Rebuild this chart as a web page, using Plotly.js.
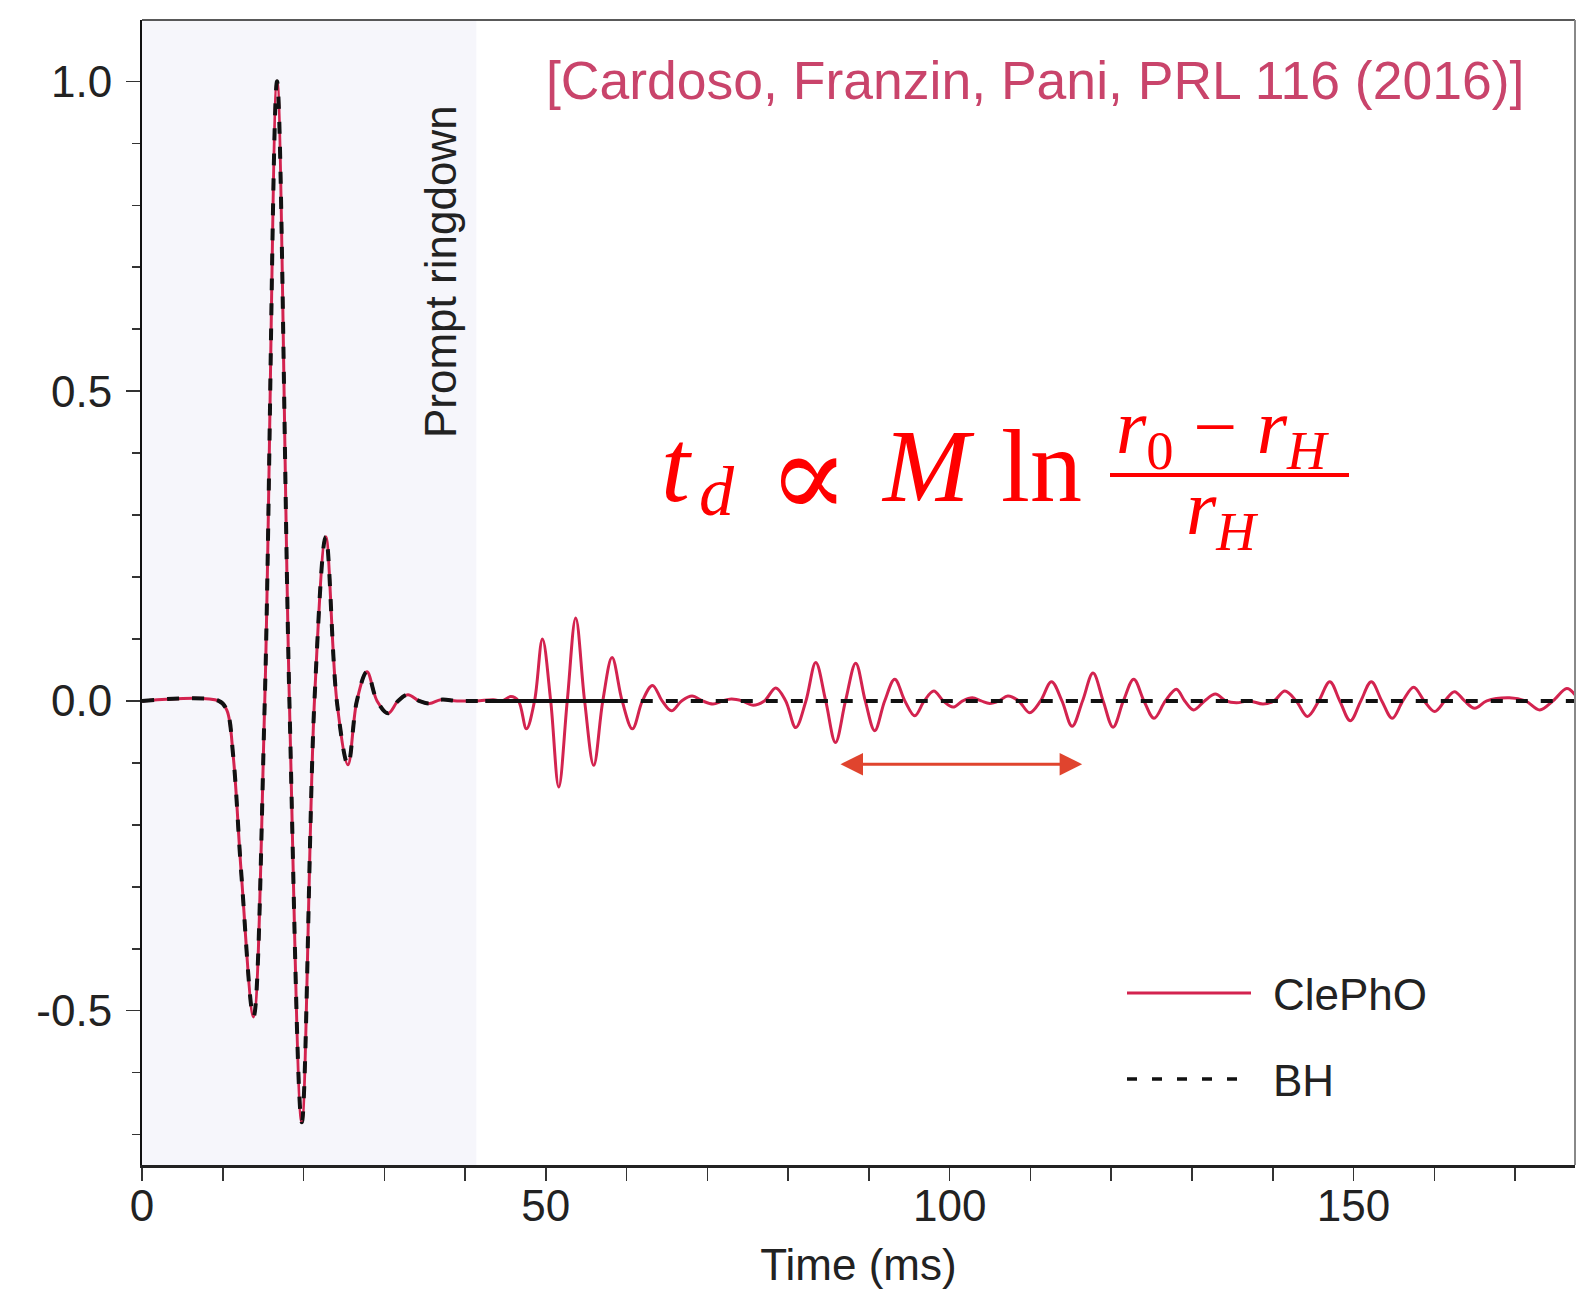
<!DOCTYPE html>
<html>
<head>
<meta charset="utf-8">
<script src="https://cdn.plot.ly/plotly-3.0.1.min.js"></script>
<style>
  html, body { margin: 0; padding: 0; background: #ffffff; }
  #chart { width: 1593px; height: 1289px; }
</style>
</head>
<body>
<div id="chart"></div>
<script>
// ---------- DATA ----------
// Prompt ringdown: shared by the ClePhO and BH signals (time in ms, normalised strain)
const promptTime = [0, 9.5, 10.5, 11.3, 12.3, 13.8, 15.2, 16.72, 18.25, 19.78, 21.35, 22.75, 24.12, 25.5, 26.6, 27.85, 29.1, 30.47, 31.7, 32.93, 34.3, 35.6, 37.0, 39.0, 41.4];
const promptAmp  = [0, 0, -0.015, -0.09, -0.28, -0.51, 0, 1.0, 0, -0.68, 0, 0.265, 0, -0.103, 0, 0.047, 0, -0.02, 0, 0.01, 0, -0.004, 0.002, 0, 0];

// ClePhO echoes after the prompt ringdown
const echoTime = [43.5, 44.6, 45.66, 46.6, 47.6, 48.6, 49.58, 50.6, 51.6, 52.65, 53.7, 54.8, 55.93, 57.05, 58.2, 59.45, 60.72, 61.95, 63.2, 64.4, 65.55, 66.8, 68.1, 69.4, 70.7, 71.85, 72.98, 74.3, 75.66, 77.05, 78.47, 79.7, 80.94, 82.2, 83.42, 84.65, 85.86, 87.1, 88.37, 89.55, 90.72, 91.95, 93.2, 94.45, 95.68, 96.85, 98.03, 99.2, 100.42, 101.6, 102.8, 103.9, 104.96, 106.1, 107.2, 108.55, 109.9, 111.25, 112.6, 113.9, 115.16, 116.45, 117.75, 119.0, 120.23, 121.5, 122.79, 124.05, 125.3, 126.7, 128.07, 129.1, 130.2, 131.55, 132.9, 134.2, 135.5, 137.1, 138.8, 140.15, 141.5, 142.9, 144.3, 145.7, 147.06, 148.3, 149.6, 150.9, 152.2, 153.5, 154.8, 156.1, 157.45, 158.75, 160.05, 161.3, 162.5, 163.75, 165.0, 166.5, 169.3, 171.3, 173.05, 174.7, 176.4, 177.42];
const echoAmp  = [0.002, 0, 0.007, 0, -0.045, 0, 0.10, 0, -0.139, 0, 0.134, 0, -0.104, 0, 0.070, 0, -0.045, 0, 0.025, 0, -0.016, 0, 0.008, 0, -0.005, 0, 0.003, 0, -0.007, 0, 0.021, 0, -0.043, 0, 0.062, 0, -0.067, 0, 0.061, 0, -0.048, 0, 0.035, 0, -0.024, 0, 0.016, 0, -0.010, 0, 0.005, 0, -0.004, 0, 0.008, 0, -0.019, 0, 0.031, 0, -0.041, 0, 0.045, 0, -0.0425, 0, 0.035, 0, -0.028, 0, 0.019, 0, -0.0145, 0, 0.011, 0, -0.003, 0, -0.005, 0, 0.016, 0, -0.025, 0, 0.031, 0, -0.032, 0, 0.031, 0, -0.028, 0, 0.022, 0, -0.017, 0, 0.015, 0, -0.012, 0, 0.005, 0, -0.0145, 0, 0.020, 0.01];

// BH: flat after the prompt ringdown
const bhTailTime = [177.42];
const bhTailAmp  = [0];
// solid black piece of the BH curve visible under the first echo
const bhSolidTime = [42.5, 59.6];
const bhSolidAmp  = [0, 0];

// Arrow marking the echo delay (ms, strain)
const arrowStart = [86.3, -0.102];
const arrowEnd   = [116.4, -0.102];
// Prompt ringdown shaded window (ms)
const promptWindow = [0, 41.4];

// Tick labels
const yTickVals = [-0.5, 0, 0.5, 1.0];
const yTickText = ['-0.5', '0.0', '0.5', '1.0'];
const yMinorVals = [-0.7, -0.6, -0.4, -0.3, -0.2, -0.1, 0.1, 0.2, 0.3, 0.4, 0.6, 0.7, 0.8, 0.9];

const seriesNames = ['ClePhO', 'BH'];

// ---------- STYLE ----------
const RED = '#d3234f';
const SANS = "'Liberation Sans', Arial, sans-serif";
const SERIF = "'Liberation Serif', 'DejaVu Serif', serif";
const W = 1593, H = 1289;
const M = {l: 142, r: 18, t: 20, b: 124};
const px = x => (x - M.l) / (W - M.l - M.r);
const py = y => (H - M.b - y) / (H - M.b - M.t);

const clephoTime = promptTime.concat(echoTime);
const clephoAmp = promptAmp.concat(echoAmp);
const bhTime = promptTime.concat(bhTailTime);
const bhAmp = promptAmp.concat(bhTailAmp);

const traces = [
  {x: clephoTime, y: clephoAmp, type: 'scatter', mode: 'lines', name: seriesNames[0],
   line: {color: RED, width: 3, shape: 'spline', smoothing: 1}, showlegend: false},
  {x: bhSolidTime, y: bhSolidAmp, type: 'scatter', mode: 'lines', name: seriesNames[1],
   line: {color: '#111', width: 4}, showlegend: false},
  {x: bhTime, y: bhAmp, type: 'scatter', mode: 'lines', name: seriesNames[1],
   line: {color: '#111', width: 4, dash: '12px,13px', shape: 'spline', smoothing: 1}, showlegend: false}
];

const annFont = (size, color, family) => ({size: size, color: color, family: family || SANS});
const A = (opts) => Object.assign({xref: 'paper', yref: 'paper', showarrow: false, borderpad: 0}, opts);

const annotations = [
  A({x: px(1035), y: py(81), xanchor: 'center', yanchor: 'middle',
     text: '[Cardoso, Franzin, Pani, PRL 116 (2016)]', font: annFont(53.5, '#c9446b')}),
  A({x: px(440), y: py(272), xanchor: 'center', yanchor: 'middle', textangle: -90,
     text: 'Prompt ringdown', font: annFont(44, '#222')}),
  // formula
  A({x: px(676), y: py(465), xanchor: 'center', yanchor: 'middle', text: '<i>t</i>', font: annFont(104, '#ff0000', SERIF)}),
  A({x: px(717), y: py(491), xanchor: 'center', yanchor: 'middle', text: '<i>d</i>', font: annFont(70, '#ff0000', SERIF)}),
  A({x: px(808), y: py(476), xanchor: 'center', yanchor: 'middle', text: '∝', font: annFont(120, '#ff0000', SERIF)}),
  A({x: px(928), y: py(465), xanchor: 'center', yanchor: 'middle', text: '<i>M</i>', font: annFont(104, '#ff0000', SERIF)}),
  A({x: px(1041), y: py(465), xanchor: 'center', yanchor: 'middle', text: 'ln', font: annFont(104, '#ff0000', SERIF)}),
  A({x: px(1222), y: py(482), xanchor: 'center', yanchor: 'bottom', text: '<i>r</i><sub>0</sub> − <i>r</i><sub><i>H</i></sub>', font: annFont(78, '#ff0000', SERIF)}),
  A({x: px(1222), y: py(463), xanchor: 'center', yanchor: 'top', text: '<i>r</i><sub><i>H</i></sub>', font: annFont(78, '#ff0000', SERIF)}),
  // legend labels
  A({x: px(1272), y: py(994), xanchor: 'left', yanchor: 'middle', text: seriesNames[0], font: annFont(44, '#222')}),
  A({x: px(1272), y: py(1080), xanchor: 'left', yanchor: 'middle', text: seriesNames[1], font: annFont(44, '#222')}),
  // double arrow
  {xref: 'x', yref: 'y', axref: 'x', ayref: 'y', x: arrowEnd[0], y: arrowEnd[1], ax: arrowStart[0], ay: arrowStart[1],
   text: '', showarrow: true, arrowside: 'end+start', arrowhead: 2, arrowsize: 1.5, arrowwidth: 3, arrowcolor: '#e0442e',
   standoff: 0, startstandoff: 0}
];

const shapes = [
  {type: 'rect', xref: 'x', yref: 'paper', x0: promptWindow[0], x1: promptWindow[1], y0: 0, y1: 1,
   fillcolor: '#f6f6fb', line: {width: 0}, layer: 'below'},
  {type: 'line', xref: 'paper', yref: 'paper', x0: 0, x1: 1, y0: 1, y1: 1, line: {color: '#222', width: 1.5}},
  {type: 'line', xref: 'paper', yref: 'paper', x0: 1, x1: 1, y0: 0, y1: 1, line: {color: '#888', width: 2}},
  // fraction bar
  {type: 'line', xref: 'paper', yref: 'paper', x0: px(1110), x1: px(1349), y0: py(475), y1: py(475), line: {color: '#ff0000', width: 4}},
  // legend swatches
  {type: 'line', xref: 'paper', yref: 'paper', x0: px(1127), x1: px(1251), y0: py(993), y1: py(993), line: {color: RED, width: 3}},
  {type: 'line', xref: 'paper', yref: 'paper', x0: px(1127), x1: px(1251), y0: py(1079), y1: py(1079), line: {color: '#111', width: 3.5, dash: '10px,15px'}}
];

const layout = {
  width: W, height: H,
  margin: M,
  paper_bgcolor: '#ffffff', plot_bgcolor: '#ffffff',
  showlegend: false,
  xaxis: {
    range: [0, 177.42], showgrid: false, zeroline: false,
    showline: true, linecolor: '#222', linewidth: 2.5,
    ticks: 'outside', ticklen: 13, tickwidth: 1.5, tickcolor: '#333',
    tickmode: 'linear', tick0: 0, dtick: 50,
    minor: {ticks: 'outside', ticklen: 13, tickwidth: 1.5, tickcolor: '#333', dtick: 10, tick0: 0, showgrid: false},
    tickfont: {family: SANS, size: 44, color: '#222'},
    ticklabelstandoff: -12,
    title: {text: 'Time (ms)', font: {family: SANS, size: 44, color: '#222'}, standoff: 62}
  },
  yaxis: {
    range: [-0.749, 1.099], showgrid: false, zeroline: false,
    showline: true, linecolor: '#111', linewidth: 2,
    ticks: 'outside', ticklen: 14, tickwidth: 1.5, tickcolor: '#333',
    tickmode: 'array', tickvals: yTickVals, ticktext: yTickText,
    minor: {ticks: 'outside', ticklen: 8, tickwidth: 1.5, tickcolor: '#333', tickmode: 'array', tickvals: yMinorVals, showgrid: false},
    tickfont: {family: SANS, size: 44, color: '#222'},
    ticklabelstandoff: 5
  },
  annotations: annotations,
  shapes: shapes
};

Plotly.newPlot('chart', traces, layout, {staticPlot: true, displayModeBar: false});
</script>
</body>
</html>
